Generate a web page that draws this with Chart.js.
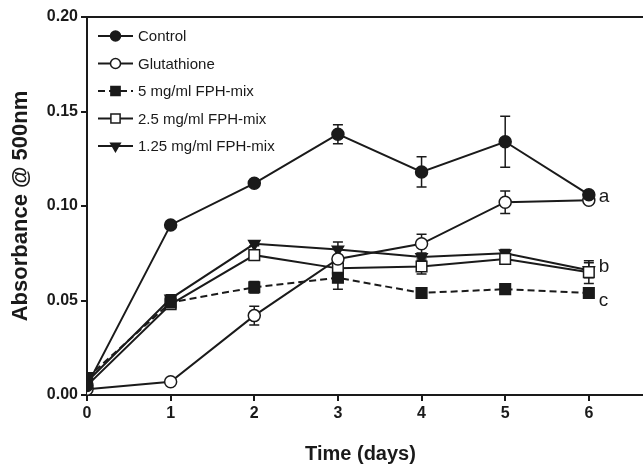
<!DOCTYPE html>
<html>
<head>
<meta charset="utf-8">
<script src="https://cdn.jsdelivr.net/npm/chart.js@4"></script>
<style>
  html, body { margin: 0; padding: 0; background: #fff; }
  #wrap { width: 643px; height: 467px; }
</style>
</head>
<body>
<div id="wrap"><canvas id="absChart" width="643" height="467"></canvas></div>
<script>
// data
const days = [0, 1, 2, 3, 4, 5, 6];
const seriesNames = ['Control', 'Glutathione', '5 mg/ml FPH-mix', '2.5 mg/ml FPH-mix', '1.25 mg/ml FPH-mix'];

const control = [0.005, 0.090, 0.112, 0.138, 0.118, 0.134, 0.106];
const glutathione = [0.003, 0.007, 0.042, 0.072, 0.080, 0.102, 0.103];
const fph5 = [0.009, 0.049, 0.057, 0.062, 0.054, 0.056, 0.054];
const fph25 = [0.005, 0.048, 0.074, 0.067, 0.068, 0.072, 0.065];
const fph125 = [0.007, 0.051, 0.080, 0.077, 0.073, 0.075, 0.066];

const controlErr = [0, 0.001, 0.001, 0.005, 0.008, 0.0135, 0.001];
const glutathioneErr = [0, 0, 0.005, 0.005, 0.005, 0.006, 0];
const fph5Err = [0, 0.002, 0.003, 0.006, 0.002, 0.001, 0.001];
const fph25Err = [0, 0.002, 0.002, 0.004, 0.004, 0.002, 0.006];
const fph125Err = [0, 0.002, 0.001, 0.004, 0.002, 0.002, 0.004];

const yTicks = [0, 0.05, 0.10, 0.15, 0.20];
const groupLabels = ['a', 'b', 'c'];
const groupLabelY = [0.104, 0.067, 0.049];

const ink = '#1a1a1a';
const sans = '"Liberation Sans", Arial, sans-serif';

function toPoints(vals) {
    return days.map((d, i) => ({ x: d, y: vals[i] }));
}

function makeSet(label, vals, errs, style, fill, radius, dash, rot) {
    return {
        label: label,
        data: toPoints(vals),
        errs: errs,
        showLine: true,
        borderColor: ink,
        borderWidth: 2,
        borderDash: dash || [],
        pointStyle: style,
        pointRadius: radius,
        pointRotation: rot || 0,
        pointBackgroundColor: fill,
        pointBorderColor: ink,
        pointBorderWidth: 1.5,
        tension: 0
    };
}

const datasets = [
    makeSet(seriesNames[0], control, controlErr, 'circle', ink, 6),
    makeSet(seriesNames[1], glutathione, glutathioneErr, 'circle', '#fff', 6),
    makeSet(seriesNames[2], fph5, fph5Err, 'rect', ink, 7.5, [7, 4]),
    makeSet(seriesNames[3], fph25, fph25Err, 'rect', '#fff', 7.5),
    makeSet(seriesNames[4], fph125, fph125Err, 'triangle', ink, 6.5, null, 180)
];

const figurePlugin = {
    id: 'figurePlugin',
    beforeDatasetsDraw(chart) {
        const ctx = chart.ctx;
        const xs = chart.scales.x, ys = chart.scales.y;
        ctx.save();
        ctx.strokeStyle = ink;
        ctx.lineWidth = 1.5;
        chart.data.datasets.forEach(ds => {
            ds.data.forEach((p, i) => {
                const e = ds.errs[i];
                if (!e) return;
                const px = xs.getPixelForValue(p.x);
                const top = ys.getPixelForValue(p.y + e);
                const bot = ys.getPixelForValue(p.y - e);
                ctx.beginPath();
                ctx.moveTo(px, top); ctx.lineTo(px, bot);
                ctx.moveTo(px - 5, top); ctx.lineTo(px + 5, top);
                ctx.moveTo(px - 5, bot); ctx.lineTo(px + 5, bot);
                ctx.stroke();
            });
        });
        ctx.restore();
    },
    afterDraw(chart) {
        const ctx = chart.ctx;
        const area = chart.chartArea;
        const xs = chart.scales.x, ys = chart.scales.y;
        ctx.save();
        // top frame line
        ctx.strokeStyle = ink;
        ctx.lineWidth = 2;
        ctx.beginPath();
        ctx.moveTo(area.left, area.top);
        ctx.lineTo(chart.width, area.top);
        ctx.stroke();
        // stretch bottom axis to the edge as in the figure
        ctx.beginPath();
        ctx.moveTo(area.right, area.bottom);
        ctx.lineTo(chart.width, area.bottom);
        ctx.stroke();

        // legend
        ctx.font = '15px ' + sans;
        ctx.textBaseline = 'middle';
        ctx.fillStyle = ink;
        chart.data.datasets.forEach((ds, i) => {
            const y = area.top + 19 + i * 27.5;
            const x0 = area.left + 11, x1 = area.left + 46;
            ctx.strokeStyle = ink;
            ctx.lineWidth = 2;
            ctx.setLineDash(ds.borderDash);
            ctx.beginPath();
            ctx.moveTo(x0, y); ctx.lineTo(x1, y);
            ctx.stroke();
            ctx.setLineDash([]);
            ctx.fillStyle = ds.pointBackgroundColor;
            ctx.lineWidth = ds.pointBorderWidth;
            Chart.helpers.drawPoint(ctx, {
                pointStyle: ds.pointStyle,
                radius: ds.pointRadius - 1,
                rotation: ds.pointRotation,
                borderWidth: ds.pointBorderWidth
            }, (x0 + x1) / 2, y);
            ctx.fillStyle = ink;
            ctx.fillText(ds.label, area.left + 51, y + 1);
        });

        // significance letters
        ctx.font = '19px ' + sans;
        ctx.textBaseline = 'middle';
        const lx = xs.getPixelForValue(days[days.length - 1]) + 10;
        groupLabels.forEach((t, i) => {
            ctx.fillText(t, lx, ys.getPixelForValue(groupLabelY[i]) - 2);
        });
        ctx.restore();
    }
};

new Chart(document.getElementById('absChart'), {
    type: 'scatter',
    data: { datasets: datasets },
    plugins: [figurePlugin],
    options: {
        responsive: false,
        animation: false,
        layout: { padding: { top: 17, right: 0, bottom: 0, left: 0 } },
        plugins: { legend: { display: false }, tooltip: { enabled: false } },
        scales: {
            x: {
                type: 'linear',
                min: 0,
                max: 6.54,
                afterBuildTicks: axis => { axis.ticks = days.map(v => ({ value: v })); },
                afterFit: axis => { axis.height = 72; },
                border: { color: ink, width: 2 },
                grid: { display: true, drawOnChartArea: false, drawTicks: true, tickLength: 6, color: ink, lineWidth: 2 },
                ticks: {
                    color: ink,
                    padding: 3,
                    font: { family: sans, size: 16, weight: 'bold' },
                    maxRotation: 0
                },
                title: {
                    display: true,
                    text: 'Time (days)',
                    color: ink,
                    font: { family: sans, size: 20, weight: 'bold' },
                    padding: { top: 0, bottom: 1 }
                }
            },
            y: {
                min: 0,
                max: 0.2,
                afterBuildTicks: axis => { axis.ticks = yTicks.map(v => ({ value: v })); },
                afterFit: axis => { axis.width = 87; },
                border: { color: ink, width: 2 },
                grid: { display: true, drawOnChartArea: false, drawTicks: true, tickLength: 6, color: ink, lineWidth: 2 },
                ticks: {
                    color: ink,
                    padding: 3,
                    font: { family: sans, size: 16, weight: 'bold' },
                    callback: v => v.toFixed(2)
                },
                title: {
                    display: true,
                    text: 'Absorbance @ 500nm',
                    color: ink,
                    font: { family: sans, size: 22, weight: 'bold' },
                    padding: { top: 8, bottom: 0 }
                }
            }
        }
    }
});
</script>
</body>
</html>
